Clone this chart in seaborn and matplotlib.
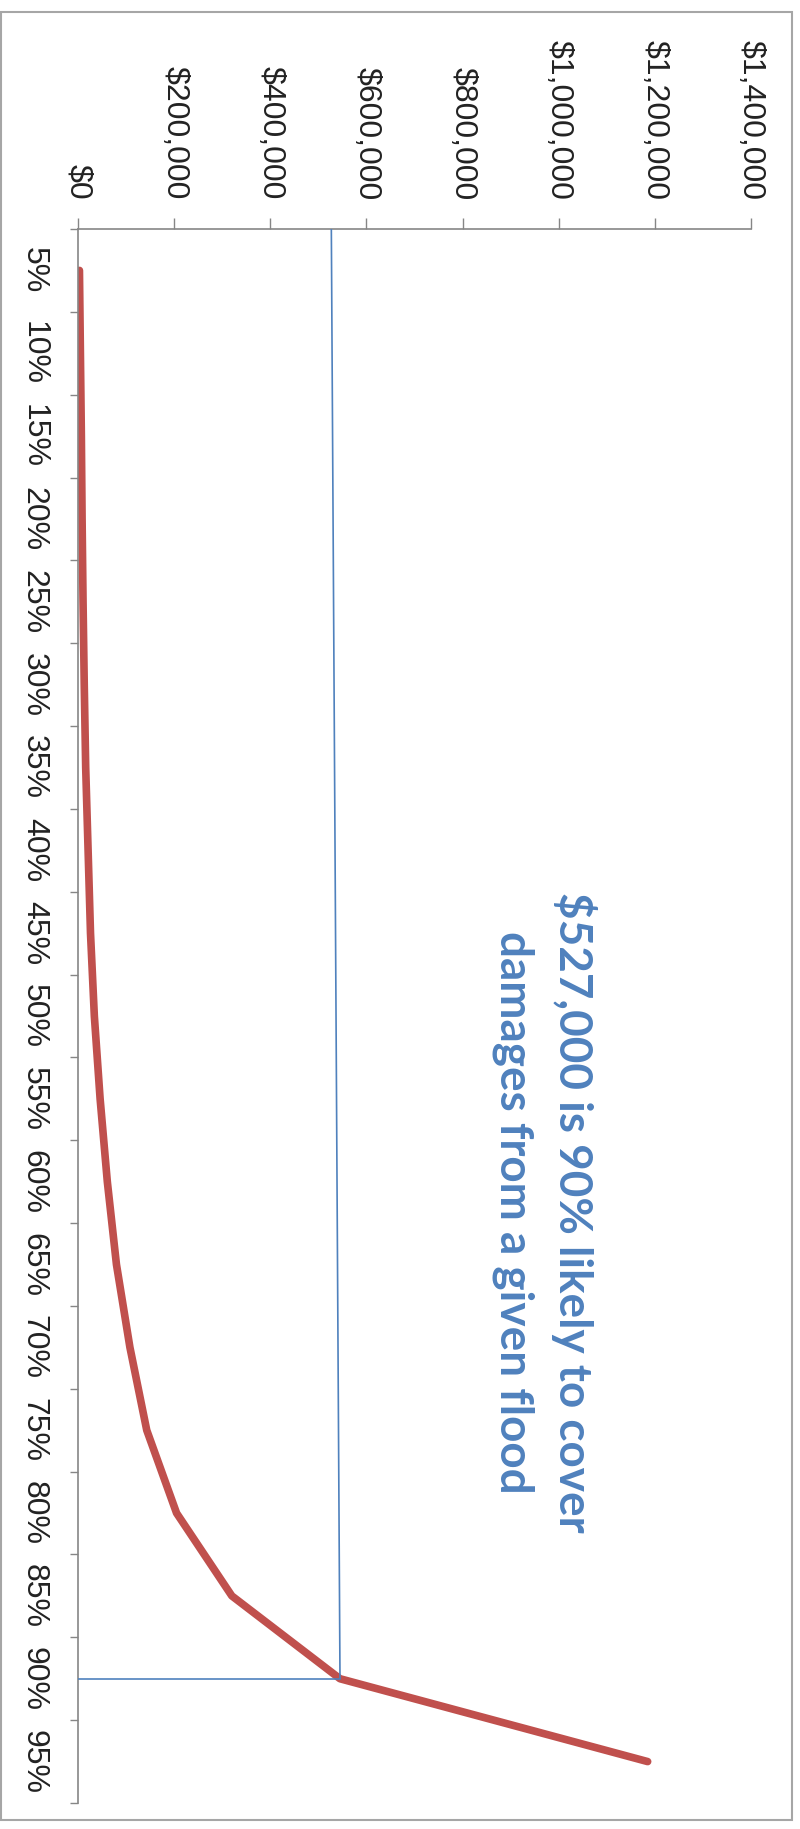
import matplotlib
matplotlib.use("Agg")
import matplotlib.pyplot as plt
import seaborn as sns
import pandas as pd
import numpy as np
from matplotlib.patches import Rectangle

# ---- data ----
percentiles = ["5%", "10%", "15%", "20%", "25%", "30%", "35%", "40%", "45%", "50%",
               "55%", "60%", "65%", "70%", "75%", "80%", "85%", "90%", "95%"]
damages = [3000, 5000, 7000, 8500, 10500, 13000, 16000, 21000, 26000, 34000,
           46000, 61000, 80000, 108000, 143000, 205000, 320000, 545000, 1185000]
value_ticks = [0, 200000, 400000, 600000, 800000, 1000000, 1200000, 1400000]
guide_percentile = "90%"
guide_value_top = 527000
guide_value = 545000
note_lines = ["$527,000 is 90% likely to cover", "damages from a given flood"]

sns.set_theme(style="white")
plt.rcParams['font.family'] = ['Liberation Sans', 'DejaVu Sans']

W, H = 800, 1829
fig = plt.figure(figsize=(W / 100, H / 100), dpi=100)
fig.patch.set_facecolor("white")
ax = fig.add_axes([78 / W, 1 - 1803 / H, 673 / W, (1803 - 229) / H])

n = len(percentiles)
df = pd.DataFrame({"pos": np.arange(n), "damage": damages, "pct": percentiles})
sns.lineplot(data=df, x="damage", y="pos", sort=False, orient="y", color="#C0504D",
             linewidth=5.5, ax=ax, solid_capstyle="round", solid_joinstyle="round")

gi = percentiles.index(guide_percentile)
blue = "#4F81BD"
ax.plot([guide_value_top, guide_value], [-0.5, gi], color=blue, lw=1.2, zorder=3)
ax.plot([0, guide_value], [gi, gi], color=blue, lw=1.2, zorder=3)

ax.set_xlim(0, 1400000)
ax.set_ylim(n - 0.5, -0.5)

gray = "#868686"
ax.xaxis.tick_top()
ax.set_xticks(value_ticks)
ax.set_xticklabels([f"${v:,.0f}" for v in value_ticks], rotation=-90, fontsize=23,
                   color="#222222")
ax.tick_params(axis="x", which="major", length=8, width=1, color=gray, direction="out",
               pad=13, top=True, bottom=False, labeltop=True, labelbottom=False)

ax.set_yticks(np.arange(n))
ax.set_yticklabels(percentiles, rotation=-90, fontsize=23, color="#222222", va="center")
ax.set_yticks(np.arange(-0.5, n, 1), minor=True)
ax.tick_params(axis="y", which="major", length=0, pad=21, left=True)
ax.tick_params(axis="y", which="minor", length=6, width=1, color=gray, direction="out", left=True)

ax.set_xlabel("")
ax.set_ylabel("")
ax.grid(False)
for s in ["right", "bottom"]:
    ax.spines[s].set_visible(False)
for s in ["left", "top"]:
    ax.spines[s].set_color(gray)
    ax.spines[s].set_linewidth(1.2)

ax.text(970000, 11.37, "\n".join(note_lines), rotation=-90, ha="center", va="center",
        multialignment="center", fontsize=33, fontweight="bold", color=blue,
        family=["Lato", "DejaVu Sans"], linespacing=1.5)

fig.add_artist(Rectangle((1 / W, 1 - 1820 / H), 791 / W, (1820 - 12) / H,
                         transform=fig.transFigure, fill=False, edgecolor="#A6A6A6", lw=1.5))

fig.savefig("out.png", dpi=100, facecolor="white")
